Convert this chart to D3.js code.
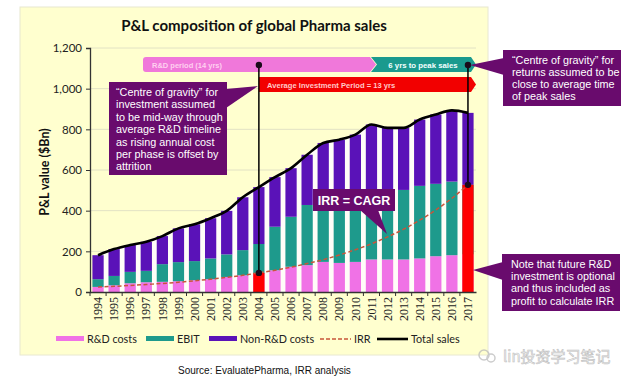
<!DOCTYPE html>
<html><head><meta charset="utf-8">
<script src="https://cdn.jsdelivr.net/npm/d3@7"></script>
<style>
html,body{margin:0;padding:0;background:#fff;}
svg{display:block;}
</style></head>
<body>
<svg id="chart" width="640" height="383"></svg>
<script>
// ---- data ----
const years = ["1994","1995","1996","1997","1998","1999","2000","2001","2002","2003","2004","2005","2006","2007","2008","2009","2010","2011","2012","2013","2014","2015","2016","2017"];
const rdCosts  = [25,33,43,48,50,53,58,63,74,82,91,107,124,132,148,143,148,160,160,160,165,176,181,185];
const ebit     = [38,46,56,56,87,94,94,102,111,124,145,214,246,296,305,302,313,318,334,342,357,356,362,342];
const nonRd    = [118,132,132,143,138,166,181,198,214,260,280,244,239,247,280,304,313,346,313,305,326,341,350,354];
const irr      = [25,28,32,37,42,48,55,63,72,82,94,107,122,140,159,182,208,237,271,309,353,403,461,527];
const highlightYears = ["2004","2017"];
const yTicks = [0,200,400,600,800,1000,1200];
const seriesNames = ["R&D costs","EBIT","Non-R&D costs","IRR","Total sales"];
const colors = {rd:"#F072E6", ebit:"#1E9A8C", nonRd:"#5A12B8", red:"#FF0000", irr:"#C8553A", total:"#000000", callout:"#690B6D"};

const svg = d3.select("#chart");
const font = "Lato, 'Open Sans', sans-serif";

// panel
svg.append("rect").attr("x",20).attr("y",7).attr("width",468).attr("height",348)
  .attr("fill","#FFFFCF").attr("stroke","#E8E8D0").attr("stroke-width",1);

// title
svg.append("text").attr("x",254).attr("y",31).attr("text-anchor","middle")
  .attr("font-family",font).attr("font-weight","bold").attr("font-size",15).attr("fill","#111")
  .text("P&L composition of global Pharma sales");

const x = d3.scaleBand().domain(years).range([90,476]).paddingInner(0.3).paddingOuter(0.15);
const y = d3.scaleLinear().domain([0,1200]).range([292,48]);
const cx = d => x(d) + x.bandwidth()/2;

const data = years.map((yr,i)=>({year:yr, rd:rdCosts[i], ebit:ebit[i], nonRd:nonRd[i], irr:irr[i], total:rdCosts[i]+ebit[i]+nonRd[i]}));

// gridlines
svg.append("g").selectAll("line").data(yTicks.filter(t=>t>0)).join("line")
  .attr("x1",90).attr("x2",476).attr("y1",d=>y(d)).attr("y2",d=>y(d))
  .attr("stroke","#E2E2C4").attr("stroke-width",1);

// white area under total
const areaGen = d3.area().x(d=>cx(d.year)).y0(y(0)).y1(d=>y(d.total)).curve(d3.curveMonotoneX);
svg.append("path").datum(data).attr("d",areaGen).attr("fill","#FFFDF8");

// stacked bars
const stack = d3.stack().keys(["rd","ebit","nonRd"])(data);
svg.append("g").selectAll("g").data(stack).join("g")
  .attr("fill",d=>colors[d.key])
  .selectAll("rect").data(d=>d).join("rect")
  .attr("x",d=>x(d.data.year)).attr("width",x.bandwidth())
  .attr("y",d=>y(d[1])).attr("height",d=>y(d[0])-y(d[1]));

// red highlight bars
svg.append("g").selectAll("rect").data(data.filter(d=>highlightYears.includes(d.year))).join("rect")
  .attr("x",d=>x(d.year)).attr("width",x.bandwidth())
  .attr("y",d=>y(d.irr)).attr("height",d=>y(0)-y(d.irr)).attr("fill",colors.red);

// IRR dashed line
svg.append("path").datum(data)
  .attr("d",d3.line().x(d=>cx(d.year)).y(d=>y(d.irr)).curve(d3.curveMonotoneX))
  .attr("fill","none").attr("stroke",colors.irr).attr("stroke-width",1.5).attr("stroke-dasharray","4,2.5");

// total line
svg.append("path").datum(data)
  .attr("d",d3.line().x(d=>cx(d.year)).y(d=>y(d.total)).curve(d3.curveMonotoneX))
  .attr("fill","none").attr("stroke",colors.total).attr("stroke-width",2.6);

// axes
const yAxis = svg.append("g").attr("transform","translate(90,0)")
  .call(d3.axisLeft(y).tickValues(yTicks).tickSize(4).tickFormat(d3.format(",")));
yAxis.select(".domain").attr("stroke","#333").attr("stroke-width",1.3);
yAxis.selectAll(".tick line").attr("stroke","#333");
yAxis.selectAll("text").attr("font-family",font).attr("font-size",11.5).attr("fill","#222").attr("x",-8);

const xAxis = svg.append("g").attr("transform","translate(0,292)")
  .call(d3.axisBottom(x).tickSize(0));
xAxis.select(".domain").attr("stroke","#333").attr("stroke-width",1.3);
xAxis.selectAll("text").attr("font-family","'Liberation Serif','DejaVu Serif',serif").attr("font-size",12).attr("fill","#222")
  .attr("transform","rotate(-90)").attr("text-anchor","end").attr("dy","0.35em").attr("x",-5).attr("y",0);
// tick marks between bars
svg.append("g").selectAll("line").data(years).join("line")
  .attr("x1",d=>x(d)-x.step()*x.paddingInner()/2).attr("x2",d=>x(d)-x.step()*x.paddingInner()/2)
  .attr("y1",292).attr("y2",296).attr("stroke","#333");

// y label
svg.append("text").attr("transform","translate(49,172) rotate(-90)").attr("text-anchor","middle")
  .attr("font-family",font).attr("font-weight","bold").attr("font-size",12.5).attr("fill","#111")
  .text("P&L value ($Bn)");

// ---- annotations ----
// pink R&D period arrow
svg.append("path").attr("d","M146,57 H370 L376,64.5 L370,72 H146 Q143,72 143,69 V60 Q143,57 146,57 Z").attr("fill","#F078DA");
svg.append("text").attr("x",152).attr("y",67.5).attr("font-family","'Liberation Sans',Arial,sans-serif").attr("font-weight","bold")
  .attr("font-size",7.5).attr("fill","#FFD0F0").text("R&D period (14 yrs)");
// teal chevron
svg.append("path").attr("d","M371,57 H471 L476,64.5 L471,72 H371 L377,64.5 Z").attr("fill","#1A9A8E");
svg.append("text").attr("x",423).attr("y",67.5).attr("text-anchor","middle").attr("font-family","'Liberation Sans',Arial,sans-serif").attr("font-weight","bold")
  .attr("font-size",7.8).attr("fill","#F4FFFF").text("6 yrs to peak sales");
// red average investment bar
svg.append("path").attr("d","M259,77 H471 L476,84.5 L471,92 H259 Z").attr("fill","#F20000");
svg.append("text").attr("x",267).attr("y",87.5).attr("font-family","'Liberation Sans',Arial,sans-serif").attr("font-weight","bold")
  .attr("font-size",7.6).attr("fill","#FFC8C8").text("Average Investment Period = 13 yrs");

// vertical marker lines with dots
const markers = data.filter(d=>highlightYears.includes(d.year));
svg.append("g").selectAll("line").data(markers).join("line")
  .attr("x1",d=>cx(d.year)).attr("x2",d=>cx(d.year)).attr("y1",65).attr("y2",d=>y(d.irr))
  .attr("stroke","#000").attr("stroke-width",1.5);
svg.append("g").selectAll("circle").data(markers.flatMap(d=>[{x:cx(d.year),y:65},{x:cx(d.year),y:y(d.irr)}])).join("circle")
  .attr("cx",d=>d.x).attr("cy",d=>d.y).attr("r",3.2).attr("fill","#1a0a1a");

// callouts
function callout(box, pointer, lines, opts){
  const g = svg.append("g");
  g.append("polygon").attr("points",pointer.map(p=>p.join(",")).join(" ")).attr("fill",colors.callout);
  g.append("rect").attr("x",box[0]).attr("y",box[1]).attr("width",box[2]-box[0]).attr("height",box[3]-box[1]).attr("fill",colors.callout);
  lines.forEach((t,i)=>{
    g.append("text").attr("x",opts.x).attr("y",opts.y+i*opts.lh).attr("font-family","'Liberation Sans',Arial,sans-serif")
      .attr("font-size",opts.fs).attr("font-weight",opts.bold?"bold":"normal").attr("text-anchor",opts.anchor||"start")
      .attr("fill","#fff").text(t);
  });
}
callout([109,82,227,175],[[226,89],[258,86],[226,108]],
  ["\u201CCentre of gravity\u201D for","investment assumed","to be mid-way through","average R&D timeline","as rising annual cost","per phase is offset by","attrition"],
  {x:116,y:96,lh:12.4,fs:10.8});
callout([503,50,621,106],[[504,58],[470,65],[504,75]],
  ["\u201CCentre of gravity\u201D for","returns assumed to be","close to average time","of peak sales"],
  {x:512,y:64,lh:11.9,fs:10.8});
callout([502,254,620,311],[[503,262],[473,270],[503,280]],
  ["Note that future R&D","investment is optional","and thus included as","profit to calculate IRR"],
  {x:511,y:268,lh:12.2,fs:10.8});
callout([313,189,395,211],[[360,210],[387,234],[378,210]],
  ["IRR = CAGR"],
  {x:354,y:205,lh:0,fs:12.5,bold:true,anchor:"middle"});

// legend
const leg = svg.append("g").attr("font-family",font).attr("font-size",10.8).attr("fill","#222");
const legItems = [
  {name:seriesNames[0], x:56, w:28, type:"rect", color:colors.rd},
  {name:seriesNames[1], x:146, w:28, type:"rect", color:colors.ebit},
  {name:seriesNames[2], x:209, w:28, type:"rect", color:colors.nonRd},
  {name:seriesNames[3], x:320, w:31, type:"dash", color:colors.irr},
  {name:seriesNames[4], x:377, w:31, type:"line", color:colors.total}
];
legItems.forEach(it=>{
  if(it.type==="rect"){
    leg.append("rect").attr("x",it.x).attr("y",336).attr("width",it.w).attr("height",5).attr("fill",it.color);
  } else {
    leg.append("line").attr("x1",it.x).attr("x2",it.x+it.w).attr("y1",339).attr("y2",339)
      .attr("stroke",it.color).attr("stroke-width",it.type==="line"?2.6:1.5).attr("stroke-dasharray",it.type==="dash"?"4,2":null);
  }
  leg.append("text").attr("x",it.x+it.w+3).attr("y",343).text(it.name);
});

// source
svg.append("text").attr("x",178).attr("y",374).attr("font-family","'Liberation Sans',Arial,sans-serif").attr("font-size",10).attr("fill","#111")
  .text("Source: EvaluatePharma, IRR analysis");

// watermark
const wm = svg.append("g").attr("opacity",0.75);
wm.append("circle").attr("cx",484).attr("cy",355).attr("r",5).attr("fill","none").attr("stroke","#bbb").attr("stroke-width",1.5);
wm.append("circle").attr("cx",491).attr("cy",358).attr("r",4).attr("fill","none").attr("stroke","#bbb").attr("stroke-width",1.5);
wm.append("text").attr("x",503).attr("y",362).attr("font-family","'Noto Sans CJK SC',sans-serif").attr("font-size",15)
  .attr("fill","#f4f4f4").attr("stroke","#aaa").attr("stroke-width",0.6).text("lin投资学习笔记");
</script>
</body></html>
